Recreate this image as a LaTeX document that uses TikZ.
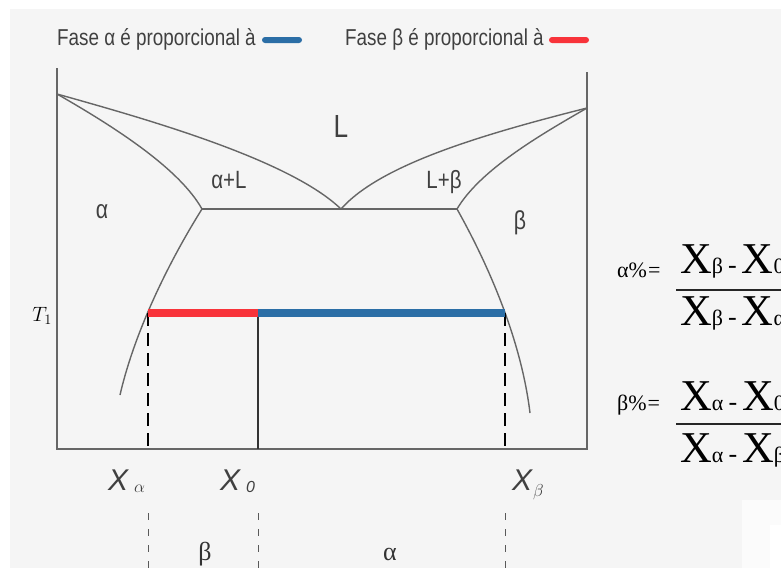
\documentclass[tikz,border=0pt]{standalone}
\usepackage{fontspec}
\setmainfont{Liberation Serif}
\setsansfont{Liberation Sans}
\newfontfamily\narrowsf[FakeStretch=0.82]{Liberation Sans}
\usetikzlibrary{positioning,calc}
\definecolor{bggray}{HTML}{F5F5F5}
\definecolor{curvegray}{HTML}{666666}
\definecolor{leverblue}{HTML}{2B6EA6}
\definecolor{leverred}{HTML}{F8333A}
\newcommand{\xdiff}[2]{{\fontsize{44}{44}\selectfont X}{\fontsize{22}{22}\selectfont #1}\hspace{5pt}{\fontsize{26}{26}\selectfont -}\hspace{5pt}{\fontsize{44}{44}\selectfont X}{\fontsize{22}{22}\selectfont #2}}

\begin{document}
\begin{tikzpicture}[x=1pt, y=-1pt,
  phase/.style={curvegray, line width=1.4pt},
  region/.style={font=\narrowsf\fontsize{25}{25}\selectfont, text=black!75, inner sep=0, anchor=base},
  pill/.style={rounded corners=3pt, minimum width=40pt, minimum height=6pt, inner sep=0},
  xlabel/.style={font=\sffamily\itshape\fontsize{30}{30}\selectfont, text=black!75, inner sep=0, anchor=base west},
  guide/.style={black!65, line width=1pt, dash pattern=on 7pt off 9pt}]
\useasboundingbox (0,0) rectangle (781,568);
\clip (0,0) rectangle (781,568);
\fill[bggray] (10,9) rectangle (781,568);
\fill[white!60!bggray] (742,500) rectangle (781,568);
\fill[white] (770,525) rectangle (781,568);

% legend
\node[font=\narrowsf\fontsize{23}{23}\selectfont, text=black!75, inner sep=0, anchor=base west] (legA) at (57,45) {Fase α é proporcional à};
\node[pill, fill=leverblue] (pillA) at (282,40) {};
\node[font=\narrowsf\fontsize{23}{23}\selectfont, text=black!75, inner sep=0, anchor=base west] (legB) at (345,45) {Fase β é proporcional à};
\node[pill, fill=leverred] (pillB) at (569,40) {};

% key points of the diagram
\coordinate (topA) at (57,68);
\coordinate (topB) at (587,72);
\coordinate (cornA) at (57,449);
\coordinate (cornB) at (587,449);
\coordinate (meltA) at (57,94);
\coordinate (meltB) at (587,108);
\coordinate (eut) at (341,209);
\coordinate (eutA) at (202,209);
\coordinate (eutB) at (457,209);
\coordinate (solvA) at (120,395);
\coordinate (solvB) at (530,413);
\coordinate (tA) at (148,313);
\coordinate (t0) at (258,313);
\coordinate (tB) at (505,313);
\coordinate (baseA) at (148,449);
\coordinate (base0) at (258,449);
\coordinate (baseB) at (505,449);

% axes
\draw[curvegray, line width=1.4pt] (topA) -- (cornA) -- (cornB) -- (topB);

% phase boundaries
\draw[phase] (meltA) .. controls (150,120) and (290,160) .. (eut);
\draw[phase] (meltB) .. controls (480,135) and (380,165) .. (eut);
\draw[phase] (meltA) .. controls (120,130) and (180,170) .. (eutA);
\draw[phase] (meltB) .. controls (540,135) and (480,170) .. (eutB);
\draw[phase] (eutA) -- (eutB);
\draw[phase] (eutA) .. controls (170,260) and (135,330) .. (solvA);
\draw[phase] (eutB) .. controls (480,250) and (520,330) .. (solvB);

% lever at T1
\draw[black, line width=2pt, dash pattern=on 13pt off 7pt] (tA) -- (baseA);
\draw[black, line width=2pt, dash pattern=on 13pt off 7pt] (tB) -- (baseB);
\draw[black!80, line width=1.4pt] (t0) -- (base0);
\draw[leverred, line width=8pt] (tA) -- (t0);
\draw[leverblue, line width=8pt] (t0) -- (tB);

% region labels
\node[region, font=\narrowsf\fontsize{32}{32}\selectfont] (liq) at (341,137) {L};
\node[region] (alphaliq) at (229,188) {α+L};
\node[region] (liqbeta) at (444,188) {L+β};
\node[region, font=\narrowsf\fontsize{26}{26}\selectfont] (alpha) at (102,218) {α};
\node[region, font=\narrowsf\fontsize{26}{26}\selectfont] (beta) at (520,229) {β};
\node[inner sep=0, anchor=base east, font=\fontsize{22}{22}\selectfont] (temp) at (52,321) {$T_1$};

% compositions
\node[xlabel] (xa) at (108,490) {X\hspace{6pt}\raisebox{-2pt}{\fontsize{16}{16}\selectfont$\alpha$}};
\node[xlabel] (x0) at (220,490) {X\hspace{6pt}\raisebox{-2pt}{\fontsize{16}{16}\selectfont\textit{0}}};
\node[xlabel] (xb) at (512,490) {X\hspace{1pt}\raisebox{-6pt}{\fontsize{18}{18}\selectfont$\beta$}};

\coordinate (lowA) at (148,513);
\coordinate (low0) at (258,513);
\coordinate (lowB) at (505,513);
\coordinate (endA) at (148,568);
\coordinate (end0) at (258,568);
\coordinate (endB) at (505,568);
\draw[guide] (lowA) -- (endA);
\draw[guide] (low0) -- (end0);
\draw[guide] (lowB) -- (endB);
\node[inner sep=0, anchor=base, font=\fontsize{26}{26}\selectfont, text=black!80] (segB) at (205,560) {β};
\node[inner sep=0, anchor=base, font=\fontsize{26}{26}\selectfont, text=black!80] (segA) at (390,560) {α};

% lever rule
\node[inner sep=0, anchor=base west, font=\fontsize{22}{22}\selectfont] (pa) at (617,277) {α\%\hspace{1pt}=};
\node[inner sep=0, anchor=base west] (numA) at (680,273) {\xdiff{β}{0}};
\node[inner sep=0, anchor=base west] (denA) at (680,325) {\xdiff{β}{α}};
\coordinate (barA) at (676,290);
\coordinate (barAend) at (781,290);
\draw[black!85, line width=1.5pt] (barA) -- (barAend);

\node[inner sep=0, anchor=base west, font=\fontsize{22}{22}\selectfont] (pb) at (617,410) {β\%\hspace{1pt}=};
\node[inner sep=0, anchor=base west] (numB) at (680,410) {\xdiff{α}{0}};
\node[inner sep=0, anchor=base west] (denB) at (680,462) {\xdiff{α}{β}};
\coordinate (barB) at (676,424);
\coordinate (barBend) at (781,424);
\draw[black!85, line width=1.5pt] (barB) -- (barBend);
\end{tikzpicture}
\end{document}
